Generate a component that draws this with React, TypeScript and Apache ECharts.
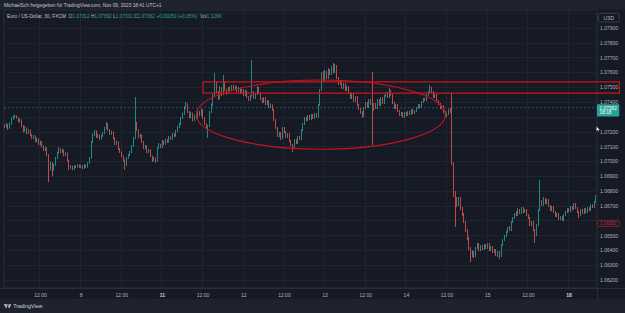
import React, { useEffect, useRef } from 'react';
import * as echarts from 'echarts';

// Prices are stored in points of 0.00001 above 1.00000 (7232 -> 1.07232).
const PIP = 0.00001;
const firstOpen = 7239;

// Each bar: [close, low, high]; the open of a bar is the close of the bar before it.
const sep07 = [
  [7232, 7225, 7250], [7245, 7228, 7258], [7225, 7212, 7252], [7252, 7220, 7262], [7286, 7248, 7295],
  [7299, 7280, 7310], [7306, 7292, 7315], [7293, 7288, 7312], [7272, 7265, 7298], [7279, 7262, 7288],
  [7239, 7230, 7284], [7205, 7195, 7245], [7225, 7200, 7240], [7191, 7182, 7230], [7212, 7185, 7218],
  [7178, 7170, 7216], [7158, 7150, 7184], [7171, 7150, 7180], [7137, 7128, 7176], [7151, 7130, 7160],
  [7117, 7110, 7156], [7131, 7108, 7140], [7104, 7095, 7136], [7077, 7070, 7110], [7090, 7070, 7100],
  [7043, 7035, 7095], [6955, 6861, 7050], [6989, 6940, 7000], [6942, 6900, 6995], [6976, 6935, 6985],
  [7023, 6970, 7030], [7056, 7015, 7065], [7083, 7050, 7095], [7063, 7055, 7088], [7077, 7058, 7085],
  [7043, 7035, 7080], [7056, 7036, 7062], [7009, 7000, 7060], [6955, 6942, 7012], [6969, 6950, 6975],
  [6948, 6940, 6972], [6969, 6945, 6975], [6962, 6955, 6975], [6976, 6958, 6982], [6962, 6955, 6980],
];
const sep08 = [
  [6969, 6955, 6978], [6955, 6948, 6975], [6976, 6950, 6982], [6962, 6955, 6980], [6989, 6958, 6995],
  [7023, 6985, 7030], [7131, 7018, 7138], [7178, 7125, 7190], [7205, 7170, 7212], [7164, 7158, 7210],
  [7178, 7158, 7188], [7151, 7145, 7182], [7171, 7148, 7180], [7191, 7165, 7198], [7225, 7185, 7232],
  [7252, 7218, 7266], [7212, 7205, 7258], [7185, 7178, 7218], [7198, 7180, 7208], [7158, 7150, 7202],
  [7117, 7110, 7162], [7131, 7110, 7140], [7083, 7075, 7135], [7063, 7056, 7090], [7036, 7029, 7068],
  [7009, 7000, 7040], [6976, 6942, 7012], [7023, 6970, 7030], [7043, 7018, 7050], [7063, 7036, 7070],
  [7104, 7056, 7110], [7158, 7098, 7165], [7259, 7150, 7434], [7212, 7205, 7266], [7164, 7158, 7218],
  [7178, 7155, 7185], [7131, 7124, 7182], [7090, 7083, 7138], [7104, 7083, 7112], [7063, 7056, 7108],
  [7077, 7056, 7085], [7036, 7029, 7082], [7009, 6996, 7040], [7023, 7002, 7030],
];
const sep10 = [[7002, 6989, 7028], [7090, 6998, 7095], [7110, 7085, 7124], [7097, 7090, 7118]];
const sep11 = [
  [7137, 7090, 7145], [7117, 7110, 7142], [7144, 7112, 7152], [7131, 7124, 7150], [7164, 7126, 7172],
  [7151, 7145, 7170], [7185, 7146, 7192], [7171, 7165, 7190], [7205, 7166, 7212], [7232, 7198, 7240],
  [7252, 7225, 7262], [7293, 7246, 7300], [7320, 7286, 7330], [7360, 7313, 7372], [7387, 7353, 7401],
  [7333, 7326, 7392], [7299, 7290, 7340], [7326, 7293, 7335], [7279, 7270, 7330], [7306, 7272, 7315],
  [7293, 7285, 7312], [7333, 7288, 7347], [7313, 7306, 7340], [7347, 7306, 7355], [7293, 7286, 7352],
  [7252, 7245, 7298], [7225, 7218, 7258], [7239, 7158, 7246], [7333, 7232, 7340], [7380, 7326, 7390],
  [7448, 7374, 7455], [7522, 7441, 7596], [7468, 7461, 7536], [7428, 7414, 7475], [7495, 7421, 7509],
  [7455, 7441, 7502], [7536, 7448, 7583], [7482, 7475, 7542], [7461, 7448, 7490], [7495, 7455, 7502],
  [7482, 7475, 7505], [7509, 7475, 7515], [7488, 7480, 7518], [7502, 7482, 7512], [7475, 7468, 7509],
  [7495, 7468, 7502], [7461, 7455, 7500], [7482, 7455, 7490],
];
const sep12 = [
  [7448, 7441, 7488], [7475, 7441, 7482], [7434, 7428, 7480], [7414, 7407, 7440], [7441, 7408, 7448],
  [7468, 7434, 7684], [7428, 7421, 7475], [7455, 7421, 7462], [7495, 7448, 7509], [7461, 7455, 7502],
  [7421, 7414, 7468], [7401, 7394, 7428], [7428, 7394, 7434], [7387, 7380, 7434], [7407, 7380, 7414],
  [7367, 7360, 7412], [7380, 7360, 7390], [7347, 7340, 7385], [7279, 7272, 7353], [7225, 7218, 7286],
  [7171, 7164, 7232], [7191, 7164, 7198], [7158, 7144, 7198], [7225, 7151, 7232], [7198, 7191, 7232],
  [7164, 7158, 7205], [7185, 7158, 7191], [7137, 7131, 7191], [7110, 7104, 7144], [7090, 7063, 7118],
  [7144, 7083, 7151], [7124, 7117, 7150], [7164, 7117, 7171], [7151, 7144, 7171], [7212, 7144, 7218],
  [7252, 7205, 7259], [7293, 7245, 7299], [7279, 7272, 7300], [7306, 7272, 7313], [7286, 7279, 7313],
  [7313, 7279, 7320], [7293, 7286, 7320], [7320, 7286, 7326], [7299, 7293, 7326], [7380, 7293, 7387],
  [7482, 7374, 7488], [7590, 7475, 7603], [7549, 7542, 7610],
];
const sep13 = [
  [7603, 7542, 7617], [7563, 7556, 7610], [7617, 7556, 7630], [7590, 7583, 7623], [7630, 7583, 7644],
  [7603, 7596, 7664], [7644, 7596, 7657], [7563, 7556, 7650], [7522, 7515, 7569], [7542, 7515, 7549],
  [7495, 7488, 7549], [7522, 7488, 7529], [7482, 7475, 7529], [7502, 7475, 7509], [7461, 7455, 7509],
  [7428, 7421, 7468], [7455, 7421, 7462], [7407, 7401, 7462], [7434, 7401, 7441], [7380, 7374, 7441],
  [7353, 7347, 7387], [7333, 7320, 7360], [7306, 7293, 7340], [7360, 7299, 7367], [7394, 7353, 7401],
  [7367, 7360, 7401], [7414, 7360, 7421], [7387, 7380, 7421], [7347, 7110, 7603], [7387, 7340, 7394],
  [7360, 7353, 7394], [7414, 7353, 7421], [7380, 7374, 7421], [7428, 7374, 7434], [7394, 7387, 7434],
  [7441, 7387, 7448], [7461, 7434, 7468], [7434, 7428, 7468], [7475, 7428, 7495], [7448, 7441, 7482],
  [7394, 7387, 7455], [7360, 7353, 7401], [7380, 7353, 7387], [7340, 7333, 7387], [7313, 7306, 7347],
  [7326, 7306, 7333], [7299, 7293, 7333], [7326, 7293, 7333],
];
const sep14 = [
  [7313, 7306, 7333], [7333, 7306, 7340], [7320, 7313, 7340], [7347, 7313, 7353], [7326, 7320, 7353],
  [7340, 7320, 7347], [7360, 7333, 7367], [7380, 7353, 7387], [7367, 7360, 7387], [7401, 7360, 7407],
  [7421, 7394, 7428], [7414, 7407, 7428], [7448, 7407, 7455], [7468, 7441, 7475], [7495, 7461, 7515],
  [7468, 7461, 7502], [7434, 7428, 7475], [7448, 7428, 7455], [7407, 7401, 7455], [7387, 7380, 7414],
  [7360, 7353, 7394], [7374, 7353, 7380], [7333, 7326, 7380], [7306, 7299, 7340], [7320, 7299, 7326],
  [7347, 7313, 7353], [7333, 7326, 7360], [6989, 6976, 7461], [6773, 6760, 6995], [6739, 6557, 6800],
  [6706, 6692, 6760], [6753, 6699, 6760], [6685, 6672, 6760], [6645, 6631, 6692], [6591, 6584, 6652],
  [6537, 6523, 6598], [6483, 6469, 6544], [6415, 6402, 6490], [6368, 6321, 6422], [6388, 6355, 6402],
  [6361, 6348, 6395], [6415, 6355, 6422], [6442, 6409, 6449], [6402, 6395, 6449], [6429, 6395, 6436],
  [6409, 6402, 6436], [6436, 6402, 6442], [6415, 6409, 6442],
];
const sep15 = [
  [6442, 6409, 6449], [6402, 6395, 6449], [6422, 6395, 6429], [6388, 6382, 6429], [6402, 6382, 6409],
  [6368, 6361, 6409], [6388, 6355, 6395], [6361, 6341, 6395], [6436, 6355, 6442], [6469, 6429, 6476],
  [6496, 6462, 6503], [6523, 6490, 6530], [6550, 6517, 6557], [6537, 6530, 6564], [6591, 6530, 6598],
  [6618, 6584, 6625], [6645, 6611, 6652], [6638, 6631, 6665], [6672, 6631, 6685], [6652, 6645, 6679],
  [6685, 6645, 6692], [6658, 6652, 6692], [6672, 6652, 6679], [6638, 6631, 6679], [6618, 6611, 6645],
  [6571, 6564, 6625], [6591, 6564, 6598], [6537, 6530, 6598], [6503, 6449, 6544], [6571, 6496, 6578],
  [6672, 6564, 6679], [6726, 6665, 6874], [6706, 6699, 6739], [6746, 6699, 6760], [6719, 6712, 6753],
  [6739, 6712, 6746], [6699, 6692, 6746], [6672, 6665, 6706], [6692, 6665, 6699], [6658, 6652, 6699],
  [6631, 6625, 6665], [6645, 6625, 6652], [6611, 6604, 6652], [6625, 6604, 6631],
];
const sep17 = [[6604, 6598, 6631], [6638, 6598, 6645], [6658, 6631, 6665], [6679, 6652, 6685]];
const sep18 = [
  [6665, 6658, 6685], [6692, 6658, 6699], [6679, 6672, 6699], [6712, 6672, 6719], [6685, 6679, 6719],
  [6658, 6652, 6692], [6638, 6618, 6665], [6672, 6631, 6679], [6652, 6645, 6679], [6679, 6645, 6685],
  [6658, 6652, 6685], [6685, 6652, 6692], [6672, 6665, 6692], [6706, 6665, 6712], [6692, 6685, 6712],
  [6726, 6685, 6733], [6746, 6719, 6773],
];

// Trading sessions: day label, first bar time (minutes after midnight), bars (30 min each)
const sessions = [
  { day: '7', start: 90, bars: sep07 },
  { day: '8', start: 0, bars: sep08 },
  { day: '10', start: 1320, bars: sep10 },
  { day: '11', start: 0, bars: sep11 },
  { day: '12', start: 0, bars: sep12 },
  { day: '13', start: 0, bars: sep13 },
  { day: '14', start: 0, bars: sep14 },
  { day: '15', start: 0, bars: sep15 },
  { day: '17', start: 1320, bars: sep17 },
  { day: '18', start: 0, bars: sep18 },
];
const boldDays = ['11', '18'];

const currentPrice = 1.07362;
const countdown = '18:18';
const alertPrice = 1.06582;
const zoneTop = 1.07536;
const zoneBottom = 1.07461;
const zoneStartBar = 117;
const ellipseStartBar = 113;
const ellipseEndBar = 260;
const ellipseTop = 1.07549;
const ellipseBottom = 1.07082;
// price-scale ticks hidden behind the price labels
const coveredTicks = ['1.07300', '1.06600'];

const titleText = 'MichaelSch freigegeben für TradingView.com, Nov 09, 2023 18:41 UTC+1';
const symbolText = 'Euro / US-Dollar, 30, FXCM';
const ohlc = [['O', '1.07312'], ['H', '1.07362'], ['L', '1.07311'], ['C', '1.07362']];
const changeText = '+0.00050 (+0.05%)';
const volText = '1.126K';

const FONT = '"Liberation Sans", Arial, sans-serif';
const UP = '#26a69a';
const DOWN = '#ef5350';
const BG = '#161a25';
const BAR_BG = '#1e222d';
const GRIDC = '#1f2431';
const TXT = '#b2b5be';

const logoPath = 'M14 22H7V11H0V4h14v18zM28 22h-8l7.5-18h8L28 22zM24 8a4 4 0 1 1-8 0a4 4 0 1 1 8 0z';
echarts.graphic.registerShape('tvlogo', echarts.graphic.extendPath(logoPath, {}));

const toPrice = (v: number) => +(1 + v * PIP).toFixed(5);

const categories: string[] = [];
const labels: string[] = [];
const candles: number[][] = [];
{
  let prevClose = firstOpen;
  sessions.forEach((s) => {
    s.bars.forEach(([c, l, h], k) => {
      const m = s.start + k * 30;
      categories.push(`${s.day}/${m}`);
      labels.push(m === 0 ? s.day : m === 720 ? '12:00' : '');
      candles.push([toPrice(prevClose), toPrice(c), toPrice(l), toPrice(h)]);
      prevClose = c;
    });
  });
}

export default function App() {
  const ref = useRef<HTMLDivElement>(null);
  useEffect(() => {
    if (!ref.current) return;
    const chart = echarts.init(ref.current, null, { renderer: 'svg' });
    const W = 625;
    const H = 313;
    const gridLeft = 4;
    const gridRight = 28;
    const paneTop = 10;
    const paneBottom = 25;
    // price scale: 1.079 at y=28, 1.062 at y=280
    const pxPerUnit = (280 - 28) / 0.017;
    const yMax = 1.079 + (28 - paneTop) / pxPerUnit;
    const yMin = 1.062 - (H - paneBottom - 280) / pxPerUnit;
    const labelTop = 28 - 0.001 * pxPerUnit;

    const showLabel = (i: number) => labels[i] !== '';

    chart.setOption({
      animation: false,
      backgroundColor: BG,
      textStyle: { fontFamily: FONT },
      grid: [
        { left: gridLeft, right: gridRight, top: paneTop, bottom: paneBottom, show: true, borderColor: '#2a2e39', borderWidth: 1, backgroundColor: 'transparent' },
        { left: gridLeft, right: gridRight, top: labelTop, bottom: H - 280, show: false },
      ],
      xAxis: [
        {
          type: 'category', gridIndex: 0, data: categories, boundaryGap: true,
          axisLine: { show: false }, axisTick: { show: false },
          axisLabel: {
            interval: (i: number) => showLabel(i),
            formatter: (_v: string, i: number) => (boldDays.includes(labels[i]) ? `{b|${labels[i]}}` : labels[i]),
            color: TXT, fontSize: 5, margin: 4, fontFamily: FONT,
            rich: { b: { fontWeight: 'bold', fontSize: 5, color: '#d1d4dc', fontFamily: FONT } },
          },
          splitLine: { show: true, interval: (i: number) => showLabel(i), lineStyle: { color: GRIDC, width: 1 } },
        },
        { type: 'value', gridIndex: 1, show: false, min: 0, max: 1 },
      ],
      yAxis: [
        { type: 'value', gridIndex: 0, min: yMin, max: yMax, show: false },
        {
          type: 'value', gridIndex: 1, position: 'right', min: 1.062, max: 1.08, interval: 0.001,
          axisLine: { show: false }, axisTick: { show: false },
          axisLabel: {
            color: TXT, fontSize: 5, margin: 3, fontFamily: FONT,
            formatter: (v: number) => {
              const s = v.toFixed(5);
              return v > 1.0795 || coveredTicks.includes(s) ? '' : s;
            },
          },
          splitLine: { show: true, lineStyle: { color: GRIDC, width: 1 } },
        },
      ],
      series: [
        {
          type: 'candlestick', xAxisIndex: 0, yAxisIndex: 0, data: candles, barWidth: 1,
          itemStyle: { color: UP, color0: DOWN, borderColor: UP, borderColor0: DOWN, borderWidth: 0.8 },
        },
      ],
    });

    const px = (i: number) => chart.convertToPixel({ xAxisIndex: 0 }, i) as unknown as number;
    const py = (v: number) => chart.convertToPixel({ yAxisIndex: 0 }, v) as unknown as number;
    const axisX = W - gridRight;

    const zx = px(zoneStartBar);
    const zy1 = py(zoneTop);
    const zy2 = py(zoneBottom);
    const ex1 = px(ellipseStartBar);
    const ex2 = px(ellipseEndBar);
    const ey1 = py(ellipseTop);
    const ey2 = py(ellipseBottom);
    const cy = py(currentPrice);
    const ay = py(alertPrice);

    const txt = (x: number, y: number, text: string, fill: string, size: number, extra: any = {}) => ({
      type: 'text', x, y, z: 120,
      style: { text, fill, fontSize: size, fontFamily: FONT, textVerticalAlign: 'middle', verticalAlign: 'middle', ...extra },
    });

    const legendRich = `{n|${symbolText}}  ` + ohlc.map(([k, v]) => `{k|${k}}{v|${v}}`).join(' ') + ` {v|${changeText}}  {k|Vol}{v|${volText}}`;

    chart.setOption({
      graphic: [
        // current price dashed line
        { type: 'line', z: 1, shape: { x1: gridLeft, y1: cy, x2: axisX, y2: cy }, style: { stroke: UP, lineWidth: 0.8, lineDash: [2, 2], opacity: 0.55 } },
        { type: 'rect', z: 110, shape: { x: 0, y: 0, width: W, height: paneTop - 0.5 }, style: { fill: BAR_BG } },
        { type: 'rect', z: 110, shape: { x: 0, y: 299, width: W, height: H - 299 }, style: { fill: BAR_BG } },
        { type: 'line', z: 110, shape: { x1: 0, y1: H - paneBottom + 0.5, x2: W, y2: H - paneBottom + 0.5 }, style: { stroke: '#2a2e39', lineWidth: 1 } },
        { type: 'line', z: 110, shape: { x1: axisX + 0.5, y1: H - paneBottom, x2: axisX + 0.5, y2: 299 }, style: { stroke: '#2a2e39', lineWidth: 1 } },
        txt(4, 5, titleText, '#c3c6ce', 4.8),
        {
          type: 'text', x: 7, y: 16, z: 120,
          style: {
            text: legendRich, fontSize: 4.8, fontFamily: FONT, textVerticalAlign: 'middle', verticalAlign: 'middle',
            rich: {
              n: { fill: '#c3c6ce', fontSize: 4.8, fontFamily: FONT },
              k: { fill: TXT, fontSize: 4.8, fontFamily: FONT },
              v: { fill: UP, fontSize: 4.8, fontFamily: FONT },
            },
          },
        },
        // USD box
        { type: 'rect', z: 120, shape: { x: axisX + 1.3, y: 13.3, width: 21, height: 8.7, r: 1.5 }, style: { fill: 'none', stroke: '#434651', lineWidth: 0.8 } },
        txt(axisX + 11.8, 17.7, 'USD', TXT, 5, { textAlign: 'center', align: 'center' }),
        // zone rectangle
        { type: 'rect', z: 115, shape: { x: zx, y: zy1, width: axisX + 22.3 - zx, height: zy2 - zy1 }, style: { fill: 'none', stroke: '#d0121b', lineWidth: 1.2 } },
        // ellipse
        { type: 'ellipse', z: 115, shape: { cx: (ex1 + ex2) / 2, cy: (ey1 + ey2) / 2, rx: (ex2 - ex1) / 2, ry: (ey2 - ey1) / 2 }, style: { fill: 'none', stroke: '#c8141c', lineWidth: 1.1 } },
        // current price label
        { type: 'rect', z: 118, shape: { x: axisX, y: cy - 3.6, width: 22.3, height: 12.4, r: 1 }, style: { fill: UP } },
        txt(axisX + 2.5, cy + 0.6, currentPrice.toFixed(5), '#ffffff', 4.8),
        txt(axisX + 2.5, cy + 5.2, countdown, '#ffffff', 4.8),
        // alert label
        { type: 'rect', z: 118, shape: { x: axisX + 0.5, y: ay - 3, width: 21.8, height: 6, r: 1 }, style: { fill: BG, stroke: '#a3232c', lineWidth: 0.8 } },
        txt(axisX + 3, ay, alertPrice.toFixed(5), '#b8313a', 4.6),
        // mouse cursor
        {
          type: 'polygon', z: 125, x: axisX - 0.5, y: 126.5,
          shape: { points: [[0, 0], [0, 4.6], [1.1, 3.6], [1.8, 5.1], [2.4, 4.8], [1.7, 3.4], [3.2, 3.4]] },
          style: { fill: '#ffffff', stroke: '#555', lineWidth: 0.3 },
        },
        // footer
        { type: 'tvlogo', z: 120, x: 4, y: 303.4, scaleX: 0.2, scaleY: 0.2, style: { fill: '#d1d4dc' } },
        txt(13.3, 306.2, 'TradingView', '#d1d4dc', 5.3),
      ],
    });

    return () => chart.dispose();
  }, []);
  return <div ref={ref} style={{ position: 'fixed', left: 0, top: 0, width: 625, height: 313 }} />;
}
